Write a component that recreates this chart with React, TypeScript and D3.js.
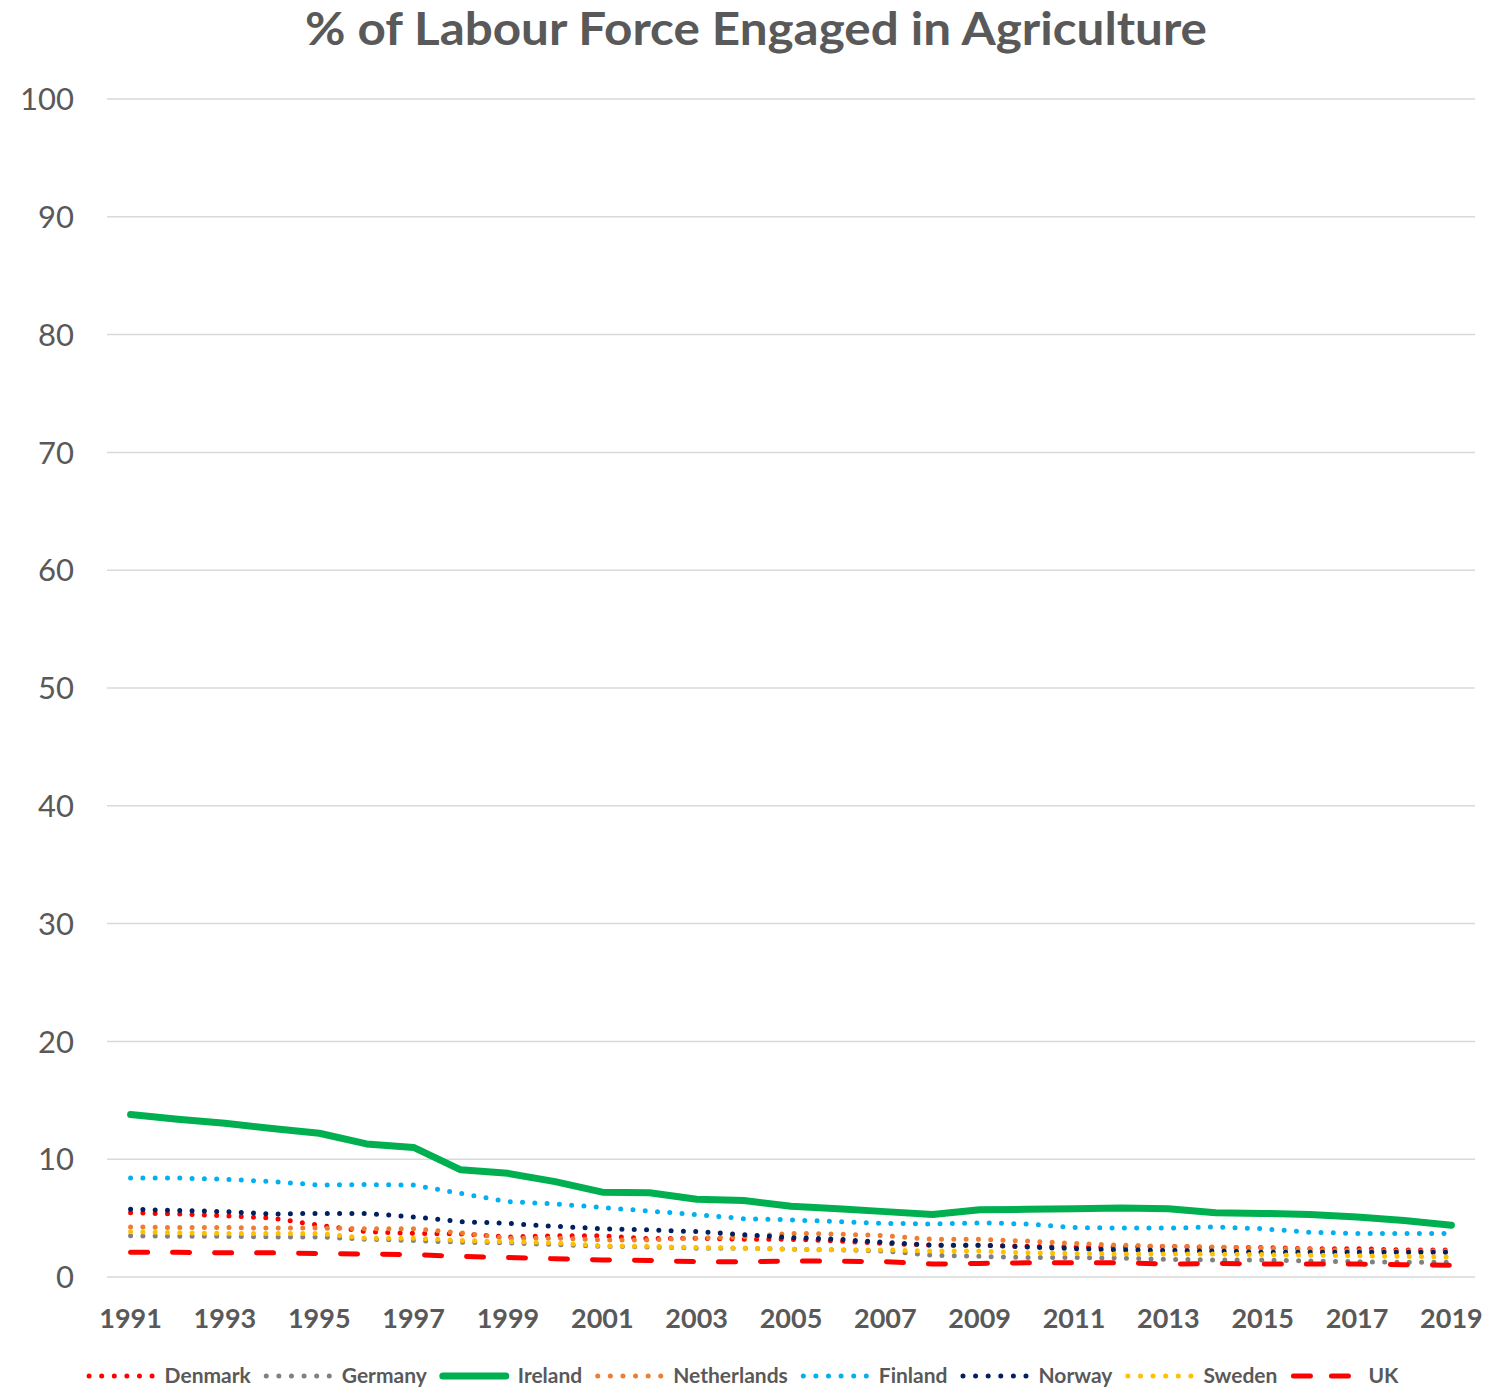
import React from "react";
import * as d3 from "d3";

const years = d3.range(1991, 2020).map(String);
const yTicks = [0, 10, 20, 30, 40, 50, 60, 70, 80, 90, 100];

const denmark = [5.45, 5.35, 5.2, 5.0, 4.4, 3.85, 3.7, 3.65, 3.4, 3.5, 3.5, 3.25, 3.3, 3.2, 3.2, 3.05, 2.85, 2.7, 2.7, 2.6, 2.55, 2.55, 2.6, 2.5, 2.5, 2.4, 2.4, 2.3, 2.3];
const germany = [3.5, 3.45, 3.45, 3.4, 3.4, 3.2, 3.1, 2.95, 2.9, 2.75, 2.6, 2.55, 2.45, 2.45, 2.35, 2.3, 2.2, 1.85, 1.75, 1.65, 1.65, 1.6, 1.5, 1.45, 1.45, 1.35, 1.3, 1.25, 1.25];
const ireland = [13.8, 13.4, 13.05, 12.6, 12.2, 11.3, 11.0, 9.1, 8.8, 8.1, 7.2, 7.15, 6.6, 6.5, 6.0, 5.8, 5.55, 5.3, 5.7, 5.75, 5.8, 5.85, 5.8, 5.45, 5.4, 5.3, 5.1, 4.8, 4.4];
const netherlands = [4.25, 4.2, 4.2, 4.15, 4.15, 4.1, 4.1, 3.75, 3.3, 3.3, 3.15, 3.15, 3.3, 3.4, 3.7, 3.65, 3.5, 3.2, 3.2, 3.05, 2.85, 2.7, 2.6, 2.55, 2.45, 2.35, 2.25, 2.2, 2.2];
const finland = [8.4, 8.4, 8.3, 8.1, 7.8, 7.85, 7.8, 7.1, 6.4, 6.2, 5.9, 5.6, 5.3, 4.95, 4.85, 4.7, 4.55, 4.5, 4.6, 4.5, 4.2, 4.15, 4.15, 4.25, 4.1, 3.8, 3.7, 3.7, 3.7];
const norway = [5.75, 5.65, 5.55, 5.35, 5.4, 5.4, 5.1, 4.7, 4.55, 4.3, 4.1, 4.0, 3.85, 3.6, 3.35, 3.2, 2.95, 2.7, 2.7, 2.55, 2.4, 2.3, 2.25, 2.2, 2.1, 2.1, 2.1, 2.1, 2.1];
const sweden = [3.85, 3.75, 3.7, 3.7, 3.7, 3.3, 3.3, 3.1, 3.0, 2.9, 2.65, 2.6, 2.5, 2.45, 2.35, 2.3, 2.3, 2.2, 2.2, 2.05, 2.0, 1.95, 1.95, 1.95, 1.9, 1.85, 1.8, 1.75, 1.7];
const uk = [2.1, 2.1, 2.05, 2.05, 2.0, 1.95, 1.9, 1.75, 1.65, 1.55, 1.45, 1.4, 1.3, 1.3, 1.35, 1.35, 1.3, 1.1, 1.15, 1.2, 1.2, 1.2, 1.1, 1.15, 1.1, 1.1, 1.1, 1.05, 1.0];

type Style = "dot" | "solid" | "dash";
const series: { name: string; values: number[]; color: string; style: Style }[] = [
  { name: "Denmark", values: denmark, color: "#FF0000", style: "dot" },
  { name: "Germany", values: germany, color: "#808080", style: "dot" },
  { name: "Ireland", values: ireland, color: "#00B050", style: "solid" },
  { name: "Netherlands", values: netherlands, color: "#ED7D31", style: "dot" },
  { name: "Finland", values: finland, color: "#00B0F0", style: "dot" },
  { name: "Norway", values: norway, color: "#002060", style: "dot" },
  { name: "Sweden", values: sweden, color: "#FFC000", style: "dot" },
  { name: "UK", values: uk, color: "#FF0000", style: "dash" },
];

const W = 1496;
const H = 1387;
const FONT = "Lato, 'Open Sans', sans-serif";
const TEXT = "#595959";

function strokeProps(style: Style, color: string) {
  if (style === "solid") return { stroke: color, strokeWidth: 7, strokeLinecap: "round" as const, strokeLinejoin: "round" as const };
  if (style === "dash") return { stroke: color, strokeWidth: 5, strokeDasharray: "17 25", strokeLinecap: "round" as const, strokeLinejoin: "round" as const };
  return { stroke: color, strokeWidth: 5, strokeDasharray: "0 12.3", strokeLinecap: "round" as const, strokeLinejoin: "round" as const };
}

function measure(text: string, font: string): number {
  const c = document.createElement("canvas").getContext("2d");
  if (!c) return text.length * 11;
  c.font = font;
  return c.measureText(text).width;
}

export default function App() {
  const left = 107;
  const right = 1475;
  const top = 99;
  const bottom = 1277;

  const x = d3.scalePoint<string>().domain(years).range([left, right]).padding(0.5);
  const y = d3.scaleLinear().domain([0, 100]).range([bottom, top]);

  const line = d3
    .line<number>()
    .x((_, i) => x(years[i]) as number)
    .y((d) => y(d));

  const legendFontSize = 21;
  const legendFont = `bold ${legendFontSize}px Lato`;
  const sampleW = 66;
  const gapText = 12;
  const gapItem = 13;
  const items = series.map((s) => ({ ...s, tw: measure(s.name, legendFont) }));
  const itemW = items.map((it) => sampleW + gapText + it.tw + gapItem);
  const totalW = d3.sum(itemW) - gapItem;
  let cursor = 742.5 - totalW / 2;
  const legendPos = items.map((it, i) => {
    const p = cursor;
    cursor += itemW[i];
    return p;
  });
  const legendY = 1376;

  return (
    <svg width={W} height={H} style={{ position: "absolute", left: 0, top: 0, background: "#fff" }} fontFamily={FONT}>
      <rect width={W} height={H} fill="#fff" />
      <text x={756} y={45} textAnchor="middle" fontSize={45} fontWeight="bold" fill={TEXT} textLength={902} lengthAdjust="spacingAndGlyphs">
        % of Labour Force Engaged in Agriculture
      </text>
      {yTicks.map((t) => (
        <g key={t}>
          <line x1={left} x2={right} y1={y(t)} y2={y(t)} stroke="#D9D9D9" strokeWidth={1.5} />
          <text x={74} y={y(t)} dy="0.36em" textAnchor="end" fontSize={31} fill={TEXT}>
            {t}
          </text>
        </g>
      ))}
      {years.map((yr, i) =>
        i % 2 === 0 ? (
          <text key={yr} x={x(yr) as number} y={1328} textAnchor="middle" fontSize={27} fontWeight="bold" fill={TEXT}>
            {yr}
          </text>
        ) : null
      )}
      {series.map((s) => (
        <path key={s.name} d={line(s.values) || ""} fill="none" {...strokeProps(s.style, s.color)} />
      ))}
      {items.map((it, i) => {
        const lx = legendPos[i];
        return (
          <g key={it.name}>
            <line
              x1={lx + (it.style === "dot" ? 2.5 : 3)}
              x2={lx + sampleW}
              y1={legendY}
              y2={legendY}
              {...strokeProps(it.style, it.color)}
              strokeDasharray={it.style === "dot" ? "0 12.6" : it.style === "dash" ? "17 21" : undefined}
            />
            <text x={lx + sampleW + gapText} y={1383} fontSize={legendFontSize} fontWeight="bold" fill={TEXT}>
              {it.name}
            </text>
          </g>
        );
      })}
    </svg>
  );
}
